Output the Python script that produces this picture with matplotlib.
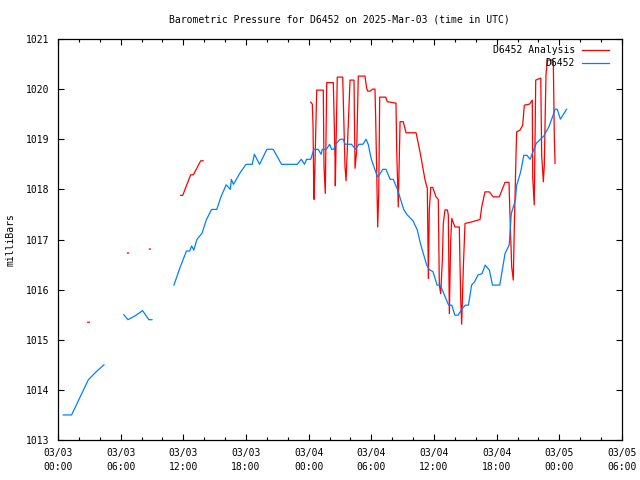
import numpy as np
import matplotlib
matplotlib.use("Agg")
from matplotlib import pyplot as plt
from matplotlib.lines import Line2D

nan = np.nan

# hours since 2025-03-03 00:00 UTC, pressure in mb (nan = gap in record)
obs_hours = [0.5, 1.3, 2.1, 2.9, 3.6, 4.4, nan,
             6.3, 6.7, 7.4, 8.1, 8.7, 9.0, nan,
             11.1, 11.7, 12.3, 12.6, 12.8, 13.0, 13.3, 13.8, 14.2, 14.7, 15.2, 15.6, 16.1,
             16.5, 16.6, 16.8, 17.4, 18.0, 18.6, 18.8, 19.3, 20.0, 20.6, 21.4, 22.9,
             23.3, 23.6, 23.8, 24.2, 24.5, 24.9, 25.2, 25.3, 25.7, 26.0, 26.2, 26.4,
             26.6, 27.0, 27.3, 27.5, 28.1, 28.5, 28.8, 29.2, 29.5, 29.7, 30.0, 30.5,
             30.6, 30.8, 31.1, 31.4, 31.8, 32.1, 32.5, 33.1, 33.4, 34.0, 34.4, 34.7,
             35.3, 35.6, 35.9, 36.3, 36.6, 37.4, 37.7, 38.0, 38.3, 38.7, 39.0, 39.3,
             39.6, 39.9, 40.2, 40.6, 40.9, 41.3, 41.6, 42.3, 42.8, 43.2, 43.4, 43.8,
             43.9, 44.3, 44.6, 44.9, 45.2, 45.6, 45.8, 46.5, 47.0, 47.3, 47.6, 47.8,
             48.1, 48.7]
obs_mb = [1013.5, 1013.5, 1013.85, 1014.2, 1014.35, 1014.5, nan,
          1015.5, 1015.4, 1015.48, 1015.58, 1015.4, 1015.4, nan,
          1016.09, 1016.45, 1016.77, 1016.77, 1016.87, 1016.79, 1017.0, 1017.13, 1017.39, 1017.6, 1017.6, 1017.85, 1018.09,
          1018.0, 1018.2, 1018.1, 1018.32, 1018.5, 1018.5, 1018.7, 1018.5, 1018.8, 1018.8, 1018.5, 1018.5,
          1018.6, 1018.5, 1018.6, 1018.6, 1018.8, 1018.8, 1018.7, 1018.8, 1018.8, 1018.9, 1018.8, 1018.8,
          1018.9, 1019.0, 1019.0, 1018.9, 1018.9, 1018.8, 1018.9, 1018.9, 1019.0, 1018.9, 1018.6, 1018.3,
          1018.25, 1018.3, 1018.4, 1018.4, 1018.2, 1018.2, 1018.0, 1017.6, 1017.5, 1017.37, 1017.19, 1016.92,
          1016.49, 1016.39, 1016.36, 1016.09, 1016.09, 1015.69, 1015.69, 1015.49, 1015.49, 1015.62, 1015.69, 1015.69,
          1016.09, 1016.16, 1016.29, 1016.32, 1016.49, 1016.39, 1016.09, 1016.09, 1016.72, 1016.89, 1017.52, 1017.79,
          1018.07, 1018.35, 1018.68, 1018.68, 1018.6, 1018.82, 1018.92, 1019.06, 1019.25, 1019.42, 1019.6, 1019.6,
          1019.4, 1019.6]

ana_hours = [2.85, 3.0, nan, 6.65, 6.75, nan, 8.75, 8.85, nan,
             11.75, 11.94, 12.7, 12.96, 13.66, 13.9, nan,
             24.20, 24.35, 24.42, 24.47, 24.52, 24.58, 24.77, 25.40, 25.47, 25.59, 25.73, 26.36,
             26.52, 26.55, 26.74, 27.26, 27.48, 27.58, 27.96, 28.34, 28.44, 28.60, 28.75, 29.39,
             29.55, 29.65, 29.87, 30.13, 30.35, 30.42, 30.52, 30.61, 30.71, 30.80, 31.38, 31.53,
             32.36, 32.43, 32.58, 32.75, 33.06, 33.32, 34.28, 34.66, 35.14, 35.36, 35.46, 35.55,
             35.69, 35.88, 36.19, 36.41, 36.51, 36.64, 36.80, 36.89, 37.05, 37.28, 37.37, 37.47,
             37.60, 37.70, 38.01, 38.42, 38.56, 38.65, 38.81, 38.97, 39.61, 40.41, 40.57, 40.88,
             41.30, 41.68, 42.25, 42.80, 43.18, 43.28, 43.44, 43.59, 43.69, 43.85, 43.92, 44.23,
             44.49, 44.65, 45.13, 45.41, 45.45, 45.60, 45.74, 46.22, 46.31, 46.47, 46.56, 46.72,
             46.85, 47.42, 47.52, 47.59]
ana_mb = [1015.35, 1015.35, nan, 1016.73, 1016.73, nan, 1016.81, 1016.81, nan,
          1017.88, 1017.88, 1018.29, 1018.29, 1018.57, 1018.57, nan,
          1019.74, 1019.70, 1019.25, 1018.3, 1017.8, 1018.3, 1019.98, 1019.98, 1018.45, 1017.92, 1020.13, 1020.13,
          1018.65, 1018.07, 1020.24, 1020.24, 1018.45, 1018.17, 1020.18, 1020.18, 1018.42, 1018.78, 1020.26, 1020.26,
          1020.02, 1019.96, 1019.96, 1020.0, 1020.0, 1019.38, 1018.29, 1017.25, 1017.92, 1019.84, 1019.84, 1019.75,
          1019.72, 1018.78, 1017.65, 1019.35, 1019.35, 1019.13, 1019.13, 1018.75, 1018.19, 1018.02, 1016.22, 1017.59,
          1018.04, 1018.04, 1017.85, 1017.8, 1016.09, 1015.92, 1016.59, 1017.32, 1017.59, 1017.59, 1017.49, 1015.52,
          1016.99, 1017.42, 1017.25, 1017.25, 1015.79, 1015.31, 1016.45, 1017.32, 1017.35, 1017.4, 1017.65, 1017.95,
          1017.95, 1017.85, 1017.85, 1018.14, 1018.14, 1017.45, 1016.45, 1016.19, 1017.25, 1018.68, 1019.15, 1019.18,
          1019.28, 1019.68, 1019.7, 1019.78, 1018.25, 1017.69, 1020.18, 1020.22, 1018.68, 1018.15, 1018.48, 1020.28,
          1020.58, 1020.58, 1019.05, 1018.52]

tick_hours = [0, 6, 12, 18, 24, 30, 36, 42, 48, 54]
tick_labels = ["03/03\n00:00", "03/03\n06:00", "03/03\n12:00", "03/03\n18:00",
               "03/04\n00:00", "03/04\n06:00", "03/04\n12:00", "03/04\n18:00",
               "03/05\n00:00", "03/05\n06:00"]

plt.rcParams["font.family"] = "DejaVu Sans Mono"
plt.rcParams["font.size"] = 7

fig = plt.figure(figsize=(6.4, 4.8), dpi=100)
ax = fig.add_axes([58 / 640, 40 / 480, 564 / 640, 401 / 480])

ax.plot(ana_hours, ana_mb, color="#ff0000", lw=0.9)
ax.plot(obs_hours, obs_mb, color="#0080ff", lw=0.9)

ax.set_xlim(0, 54)
ax.set_ylim(1013, 1021)
ax.set_xticks(tick_hours)
ax.set_xticklabels(tick_labels, linespacing=1.5)
ax.set_xticks(np.arange(0, 55, 2), minor=True)
ax.set_yticks(np.arange(1013, 1022, 1))
ax.tick_params(which="both", direction="in", top=True, right=True, width=0.8)
ax.tick_params(which="major", length=4, pad=6)
ax.tick_params(which="minor", length=2)
for s in ax.spines.values():
    s.set_linewidth(0.9)

fig.text(11 / 640, 0.5, "milliBars", rotation=90, ha="center", va="center")
fig.text(0.531, 1 - 20 / 480, "Barometric Pressure for D6452 on 2025-Mar-03 (time in UTC)",
         ha="center", va="center")

# gnuplot-style key, text right aligned, sample on the right
for i, (lab, col) in enumerate([("D6452 Analysis", "#ff0000"), ("D6452", "#0080ff")]):
    yy = 0.9726 - i * 0.0325
    ax.text(0.9167, yy, lab, transform=ax.transAxes, ha="right", va="center")
    ax.add_line(Line2D([0.929, 0.977], [yy, yy], transform=ax.transAxes, color=col, lw=0.9))

plt.savefig("out.png", dpi=100)
